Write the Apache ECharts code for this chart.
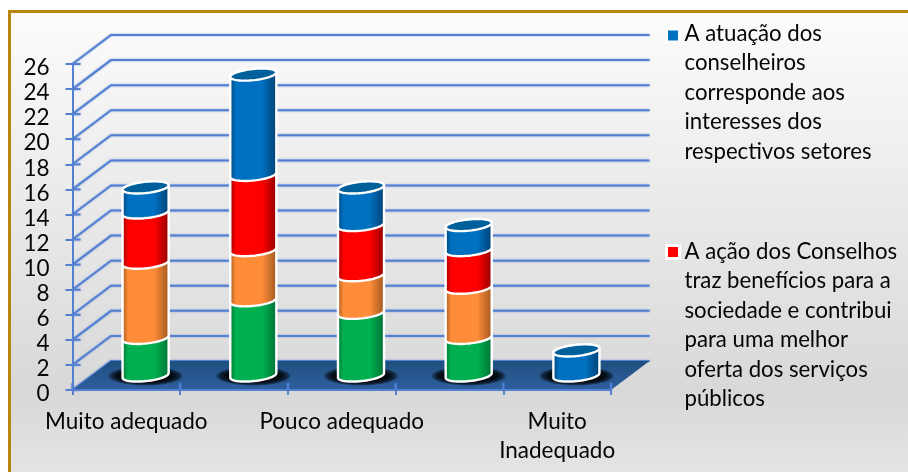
<!DOCTYPE html>
<html><head><meta charset="utf-8">
<style>html,body{margin:0;padding:0;background:#fff}#c{width:908px;height:472px}</style>
<script src="https://cdn.jsdelivr.net/npm/echarts@6/dist/echarts.min.js"></script>
</head><body><div id="c"></div>
<script>
const categories = ['Muito adequado', '', 'Pouco adequado', '', 'Muito\nInadequado'];
const yTicks = [0, 2, 4, 6, 8, 10, 12, 14, 16, 18, 20, 22, 24, 26];
const greenValues = [3, 6, 5, 3, 0];
const orangeValues = [6, 4, 3, 4, 0];
const redValues = [4, 6, 4, 3, 0];
const blueValues = [2, 8, 3, 2, 2];
const blueName = 'A atuação dos\nconselheiros\ncorresponde aos\ninteresses dos\nrespectivos setores';
const redName = 'A ação dos Conselhos\ntraz benefícios para a\nsociedade e contribui\npara uma melhor\noferta dos serviços\npúblicos';

const FONT = 'Lato';
const TXT = '#050505';
const GRID = '#5480d2';
const DEPTH_X = 38.5, DEPTH_Y = -29;
const TILT = -6 * Math.PI / 180;
const layers = [
  { name: 'Série 1', values: greenValues, base: '#00b050', dark: '#006f35', color: '#00b050' },
  { name: 'Série 2', values: orangeValues, base: '#ff8c38', dark: '#9c5520', color: '#f79646' },
  { name: redName, values: redValues, base: '#ff0000', dark: '#8c0000', color: '#ff0000' },
  { name: blueName, values: blueValues, base: '#0070c0', dark: '#003f6e', color: '#0070c0' }
];
const totals = categories.map((_, i) => layers.reduce((s, l) => s + l.values[i], 0));

function ell(cx, cy, rx, ry, t) {
  const c = Math.cos(t), s = Math.sin(t);
  return [cx + rx * c * Math.cos(TILT) - ry * s * Math.sin(TILT),
          cy + rx * c * Math.sin(TILT) + ry * s * Math.cos(TILT)];
}
function arc(cx, cy, rx, ry, a, b, n) {
  const out = [];
  for (let i = 0; i <= n; i++) out.push(ell(cx, cy, rx, ry, a + (b - a) * i / n));
  return out;
}
function cylinder(layer) {
  return function (params, api) {
    const cat = api.value(0), top = api.value(1), bottom = api.value(2);
    if (top === bottom) return null;
    const rx = api.size([1, 0])[0] * 0.215, ry = 5.6;
    const p0 = api.coord([cat, bottom]), p1 = api.coord([cat, top]);
    const cx = p0[0] + DEPTH_X / 2, y0 = p0[1] + DEPTH_Y / 2, y1 = p1[1] + DEPTH_Y / 2;
    const pts = arc(cx, y0, rx, ry, 0, Math.PI, 30).concat(arc(cx, y1, rx, ry, Math.PI, 2 * Math.PI, 30));
    const fill = { type: 'linear', x: 0, y: 0, x2: 1, y2: 0, colorStops: [
      { offset: 0, color: layer.dark }, { offset: 0.14, color: layer.base },
      { offset: 0.68, color: layer.base }, { offset: 1, color: layer.dark } ] };
    const kids = [{ type: 'polygon', shape: { points: pts },
      style: { fill: fill, stroke: '#fff', lineWidth: 2.4, lineJoin: 'round' } }];
    if (top >= totals[cat]) {
      kids.push({ type: 'polygon', shape: { points: arc(cx, y1, rx, ry, 0, 2 * Math.PI, 60) },
        style: { fill: '#00609c', stroke: '#fff', lineWidth: 2.4 } });
    }
    return { type: 'group', children: kids };
  };
}
function stackData(layerIdx) {
  return categories.map((_, i) => {
    let b = 0;
    for (let k = 0; k < layerIdx; k++) b += layers[k].values[i];
    return [i, b + layers[layerIdx].values[i], b];
  });
}
const gridLineStyle = { stroke: GRID, lineWidth: 2, fill: null, shadowBlur: 2, shadowColor: 'rgba(84,128,210,0.7)' };

const series = [
  { type: 'custom', name: 'grade', silent: true, z: 1, data: yTicks.map(t => [0, t]), encode: { x: 0, y: 1 },
    renderItem(params, api) {
      const cs = params.coordSys, p = api.coord([0, api.value(1)]), y = p[1], x = cs.x;
      return { type: 'group', children: [
        { type: 'polyline', shape: { points: [[x, y], [x + DEPTH_X, y + DEPTH_Y], [cs.x + cs.width + DEPTH_X, y + DEPTH_Y]] }, style: gridLineStyle },
        { type: 'line', shape: { x1: x, y1: y, x2: x + 8, y2: y }, style: gridLineStyle } ] };
    } },
  { type: 'custom', name: 'piso', silent: true, z: 2, data: [[0, 0]], encode: { x: 0, y: 1 },
    renderItem(params, api) {
      const cs = params.coordSys, y = api.coord([0, 0])[1], x = cs.x, w = cs.width;
      const kids = [{ type: 'polygon', shape: { points: [[x, y], [x + w, y], [x + w + DEPTH_X, y + DEPTH_Y], [x + DEPTH_X, y + DEPTH_Y]] },
        style: { fill: { type: 'linear', x: 0, y: 0, x2: 0, y2: 1, colorStops: [
          { offset: 0, color: '#1f4f7e' }, { offset: 1, color: '#2f5f9f' } ] } } }];
      const band = api.size([1, 0])[0];
      for (let i = 0; i <= categories.length; i++) {
        kids.push({ type: 'line', shape: { x1: x + i * band, y1: y, x2: x + i * band, y2: y - 7 }, style: gridLineStyle });
      }
      return { type: 'group', children: kids };
    } },
  { type: 'custom', name: 'sombra', silent: true, z: 3, data: categories.map((_, i) => [i, 0]), encode: { x: 0, y: 1 },
    renderItem(params, api) {
      const p = api.coord([api.value(0), 0]);
      const cx = p[0] + DEPTH_X / 2, cy = p[1] + DEPTH_Y / 2 + 0.5;
      const rings = [];
      for (let k = 0; k < 7; k++) {
        rings.push({ type: 'ellipse', shape: { cx: cx, cy: cy, rx: 37 - k * 1.8, ry: 9.5 - k * 0.6 },
          style: { fill: 'rgba(0,0,0,0.28)' } });
      }
      return { type: 'group', children: rings };
    } }
].concat(layers.map((l, idx) => ({
  type: 'custom', name: l.name, silent: true, z: 4, data: stackData(idx), encode: { x: 0, y: 1 },
  itemStyle: { color: l.color }, renderItem: cylinder(l)
})));

function legendIcon(h, cy) {
  return 'path://M0 0L0 0M13 ' + h + 'L13 ' + h + 'M0 ' + (cy - 6.5) + 'L13 ' + (cy - 6.5) + 'L13 ' + (cy + 6.5) + 'L0 ' + (cy + 6.5) + 'Z';
}
function legendOpt(name, top, h, cy) {
  return { data: [name], left: 665, top: top, padding: 0, orient: 'vertical', selectedMode: false,
    itemWidth: 13, itemHeight: h, icon: legendIcon(h, cy),
    itemStyle: { borderColor: '#fff', borderWidth: 3 },
    textStyle: { fontFamily: FONT, fontSize: 22.2, lineHeight: 29.5, color: TXT } };
}

const chart = echarts.init(document.getElementById('c'), null, { renderer: 'canvas' });
chart.setOption({
  animation: false,
  tooltip: { show: false },
  graphic: [{ type: 'rect', z: -10, silent: true, shape: { x: 9.5, y: 11.5, width: 950, height: 500 },
    style: { stroke: '#b8860b', lineWidth: 3, fill: { type: 'linear', x: 0, y: 0, x2: 0, y2: 1, colorStops: [
      { offset: 0, color: '#fcfcfc' }, { offset: 0.76, color: '#d8d8d8' }, { offset: 1, color: '#eaeaea' } ] } } }],
  legend: [legendOpt(blueName, 17.5, 147.5, 16.5), legendOpt(redName, 235.5, 177, 15)],
  grid: { left: 72.5, top: 64, width: 538.5, height: 326, containLabel: false },
  xAxis: { type: 'category', data: categories, z: 3,
    axisLine: { show: true, lineStyle: { color: GRID, width: 2 } },
    axisTick: { show: true, length: 5, lineStyle: { color: GRID, width: 2 } },
    splitLine: { show: false },
    axisLabel: { interval: 0, margin: 17, fontFamily: FONT, fontSize: 22.5, lineHeight: 29, color: TXT } },
  yAxis: { type: 'value', min: 0, max: 26, interval: 2, z: 3,
    axisLine: { show: true, lineStyle: { color: GRID, width: 2 } },
    axisTick: { show: true, length: 7, lineStyle: { color: GRID, width: 2 } },
    splitLine: { show: false },
    axisLabel: { margin: 23, verticalAlign: 'top', lineHeight: 8, fontFamily: FONT, fontSize: 22.5, color: TXT, showMinLabel: true, showMaxLabel: true } },
  series: series
});
</script></body></html>
